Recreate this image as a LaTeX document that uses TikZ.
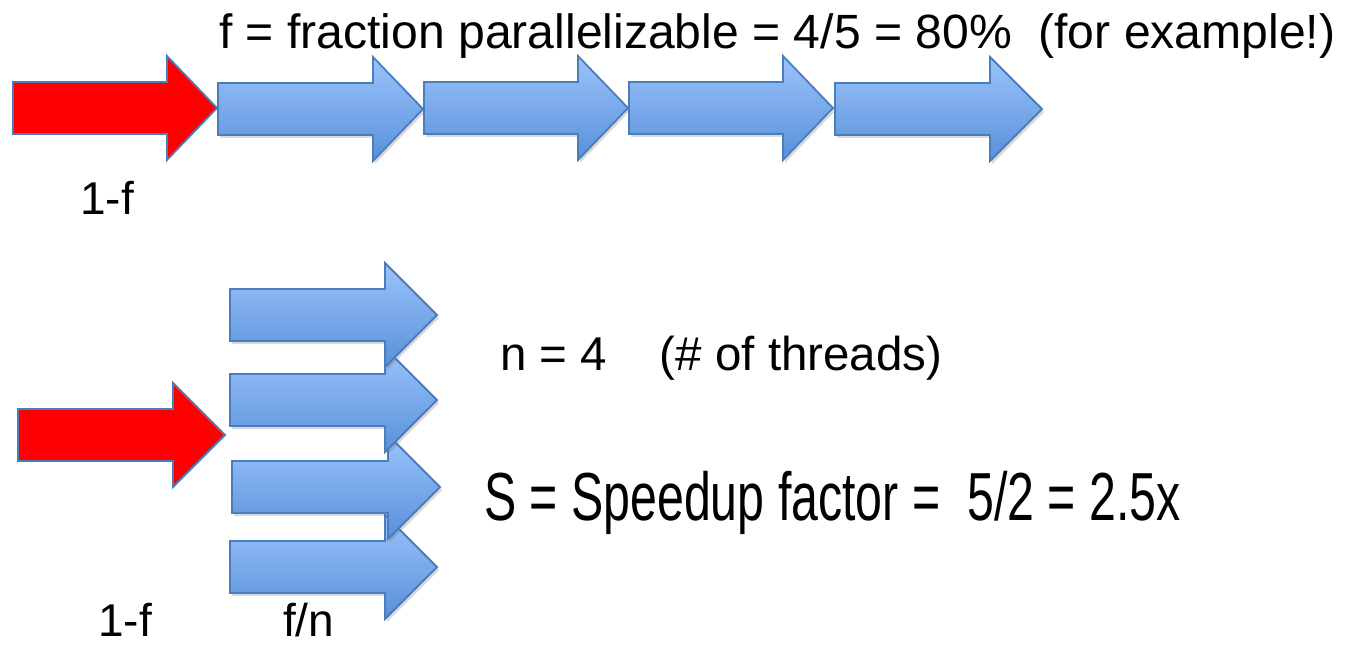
\documentclass[tikz,border=0pt]{standalone}
\usepackage{fontspec}
\setmainfont{Liberation Sans}
\usetikzlibrary{shadows}
\definecolor{arrowborder}{HTML}{4A7EBB}
\definecolor{bluetop}{HTML}{9CC3FB}
\definecolor{bluebot}{HTML}{5890DA}
\tikzset{
  bluearrow/.style={draw=arrowborder, line width=1.8pt, line join=miter, top color=bluetop, bottom color=bluebot,
     drop shadow={shadow xshift=2pt, shadow yshift=-3pt, opacity=0.25, fill=black!60}},
  redarrow/.style={draw=arrowborder, line width=1.8pt, line join=miter, fill=red},
  lbl/.style={inner sep=0pt, anchor=base west, font=\fontsize{46}{50}\selectfont},
  ttl/.style={inner sep=0pt, anchor=base west, font=\fontsize{48.1}{50}\selectfont}
}
% #1 style, #2 shaft left x, #3 head base x, #4 tip x, #5 centre y
\newcommand{\myarrowshape}[5]{%
  \path[#1] (#2,#5-26) -- (#3,#5-26) -- (#3,#5-52) -- (#4,#5) -- (#3,#5+52) -- (#3,#5+26) -- (#2,#5+26) -- cycle;}
\begin{document}
\begin{tikzpicture}[x=1pt,y=-1pt]
\useasboundingbox (0,0) rectangle (1347,647);
% top row
\myarrowshape{redarrow}{13}{167}{217}{108}
\myarrowshape{bluearrow}{218}{373}{423}{109}
\myarrowshape{bluearrow}{424}{578}{628}{108}
\myarrowshape{bluearrow}{629}{783}{833}{108}
\myarrowshape{bluearrow}{835}{990}{1042}{109}
% bottom group
\myarrowshape{redarrow}{18}{173}{225}{435}
\myarrowshape{bluearrow}{230}{385}{437}{567}
\myarrowshape{bluearrow}{232}{388}{440}{487}
\myarrowshape{bluearrow}{230}{385}{437}{400}
\myarrowshape{bluearrow}{230}{385}{437}{315}
% texts
\node[ttl] (title) at (219,49) {f = fraction parallelizable = 4/5 = 80\%\ \ (for example!)};
\node[lbl] (onef1) at (80,215) {1-f};
\node[lbl] (onef2) at (98,636) {1-f};
\node[lbl] (fn) at (283,636) {f/n};
\node[inner sep=0pt, anchor=base west, font=\fontsize{47.5}{50}\selectfont] (nthreads) at (500,370) {n = 4\ \ \ \ (\# of threads)};
\node[inner sep=0pt, anchor=base west] (speedup) at (484,520) {\scalebox{0.71}[1]{\fontsize{68}{70}\selectfont S = Speedup factor =\ \ 5/2 = 2.5x}};
\end{tikzpicture}
\end{document}
